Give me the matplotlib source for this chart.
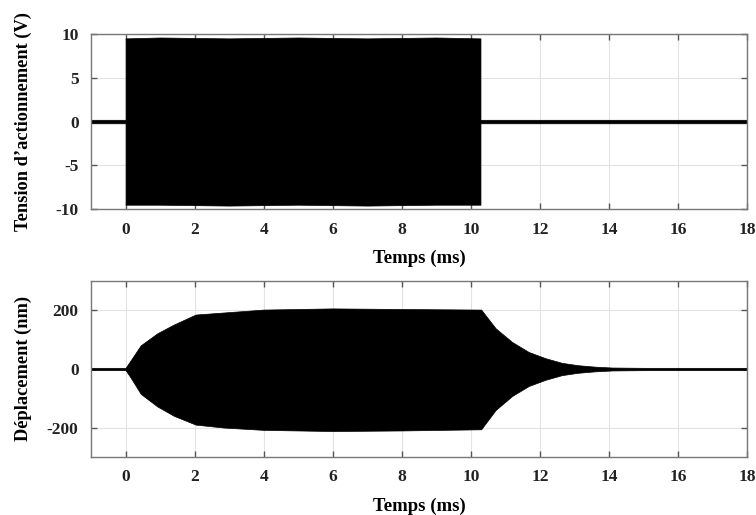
import matplotlib.pyplot as plt

# Données (enveloppes des signaux)
t_tension = [-1.0, 0.0, 0.0, 1.0, 3.0, 5.0, 7.0, 9.0, 10.28, 10.28, 18.0]
tension_haut = [0.2, 0.2, 9.5, 9.6, 9.5, 9.6, 9.5, 9.6, 9.5, 0.2, 0.2]
tension_bas = [-0.2, -0.2, -9.5, -9.5, -9.6, -9.5, -9.6, -9.5, -9.5, -0.2, -0.2]

t_depl = [-1.0, 0.0, 0.15, 0.44, 0.92, 1.4, 2.03, 2.84, 4.0, 6.0, 8.0, 10.3,
          10.72, 11.2, 11.68, 12.16, 12.64, 13.1, 13.6, 14.1, 15.0, 18.0]
depl_haut = [4, 4, 30, 81, 122, 152, 186, 193, 203, 207, 205, 203,
             139, 92, 58, 37, 21, 13, 8, 5, 4, 4]
depl_bas = [-4, -4, -30, -85, -128, -160, -190, -200, -208, -212, -210, -206,
            -140, -92, -58, -37, -21, -13, -8, -5, -4, -4]

x_ticks = [0, 2, 4, 6, 8, 10, 12, 14, 16, 18]

plt.rcParams['font.family'] = ['Liberation Serif', 'DejaVu Serif']
plt.rcParams['font.weight'] = 'bold'
plt.rcParams['font.size'] = 12
plt.rcParams['axes.unicode_minus'] = False

fig = plt.figure(figsize=(7.56, 5.15), dpi=100)
ax1 = fig.add_axes([0.1204, 0.594, 0.8677, 0.340])
ax2 = fig.add_axes([0.1204, 0.113, 0.8677, 0.341])


def habillage(ax, yticks, ylim, ylabel):
    ax.set_xlim(-1, 18)
    ax.set_ylim(*ylim)
    ax.set_xticks(x_ticks)
    ax.set_yticks(yticks)
    ax.grid(True, color='#e3e3e3', linewidth=0.8)
    ax.set_axisbelow(True)
    for s in ax.spines.values():
        s.set_color('#777777')
        s.set_linewidth(1.0)
    ax.tick_params(direction='in', length=4, width=1, color='#555555',
                   top=True, right=True, labelsize=12.5, pad=9, labelcolor='#222222')
    ax.set_xlabel("Temps (ms)", fontweight='bold', fontsize=13.5, labelpad=9)
    ax.set_ylabel(ylabel, fontweight='bold', fontsize=13.2)
    ax.yaxis.set_label_coords(-0.09, 0.5)


ax1.fill_between(t_tension, tension_bas, tension_haut, color='black', linewidth=0.5)
habillage(ax1, [-10, -5, 0, 5, 10], (-10, 10), "Tension d\u2019actionnement (V)")

ax2.fill_between(t_depl, depl_bas, depl_haut, color='black', linewidth=0.5)
habillage(ax2, [-200, 0, 200], (-300, 300), "D\u00e9placement (nm)")

fig.savefig('out.png', dpi=100)
